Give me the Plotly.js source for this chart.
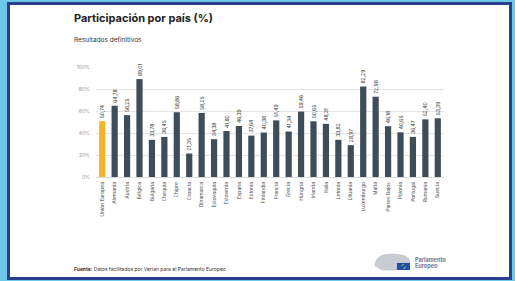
<!DOCTYPE html>
<html>
<head>
<meta charset="utf-8">
<script src="https://cdn.plot.ly/plotly-3.0.1.min.js"></script>
<style>
html,body{margin:0;padding:0;background:#6cc7ea;}
#chart{width:515px;height:281px;}
</style>
</head>
<body>
<div id="chart"></div>
<script>
const countries = ["Unión Europea","Alemania","Austria","Bélgica","Bulgaria","Chequia","Chipre","Croacia","Dinamarca","Eslovaquia","Eslovenia","España","Estonia","Finlandia","Francia","Grecia","Hungría","Irlanda","Italia","Letonia","Lituania","Luxemburgo","Malta","Países Bajos","Polonia","Portugal","Rumanía","Suecia"];
const turnout = [50.74,64.78,56.25,89.01,33.78,36.45,58.86,21.35,58.25,34.38,41.80,46.39,37.64,40.38,51.49,41.34,59.46,50.65,48.31,33.82,28.97,82.29,72.98,46.18,40.65,36.47,52.40,53.39];
const yTicks = [0,20,40,60,80,100];
const yTickText = yTicks.map(v => v + '%');

const W = 515, H = 281;
const L = 96, R = 444, T = 67, B = 177;
const px = v => (v - L) / (R - L);
const py = v => (B - v) / (B - T);

const barColors = countries.map((c, i) => i === 0 ? '#f2b42b' : '#3d4d59');

const trace = {
  type: 'bar',
  x: countries,
  y: turnout,
  marker: {color: barColors},
  texttemplate: '%{y:.2f}',
  textposition: 'outside',
  textangle: -90,
  constraintext: 'none',
  cliponaxis: false,
  textfont: {family: 'Inter, sans-serif', size: 5, color: '#333'},
  hoverinfo: 'none'
};

const layout = {
  width: W, height: H,
  margin: {l: L, r: W - R, t: T, b: H - B, pad: 0},
  paper_bgcolor: '#6cc7ea',
  plot_bgcolor: 'rgba(0,0,0,0)',
  separators: ',.',
  bargap: 0.5,
  showlegend: false,
  font: {family: 'Inter, sans-serif'},
  xaxis: {
    type: 'category',
    tickangle: -90,
    tickfont: {size: 5, color: '#555'},
    ticks: '', showgrid: false, showline: false, automargin: false,
    ticklen: 0, ticklabelstandoff: 3
  },
  yaxis: {
    range: [0, 100],
    tickvals: yTicks,
    ticktext: yTickText,
    tickfont: {size: 5, color: '#999'},
    gridcolor: '#e4e4e4', gridwidth: 1,
    zeroline: true, zerolinecolor: '#dcdcdc', zerolinewidth: 1,
    showline: false, ticks: '', automargin: false,
    ticklabelstandoff: 5
  },
  shapes: [
    {type: 'rect', xref: 'paper', yref: 'paper', layer: 'below',
     x0: px(8.5), x1: px(510.5), y0: py(3.5), y1: py(278.5),
     fillcolor: '#ffffff', line: {color: '#2b3f8e', width: 3}},
    {type: 'path', xref: 'paper', yref: 'paper', layer: 'above',
     path: `M ${px(375)} ${py(266)} Q ${px(375)} ${py(254)} ${px(392)} ${py(254)} Q ${px(410)} ${py(254)} ${px(410)} ${py(263)} L ${px(397)} ${py(263)} L ${px(397)} ${py(270)} L ${px(382)} ${py(270)} Z`,
     fillcolor: '#c9ccd3', line: {color: '#b4b8c0', width: 0.5}},
    {type: 'rect', xref: 'paper', yref: 'paper', layer: 'above',
     x0: px(397), x1: px(410), y0: py(263), y1: py(270),
     fillcolor: '#1f4fa8', line: {width: 0}},
    {type: 'circle', xref: 'paper', yref: 'paper', layer: 'above',
     x0: px(401.5), x1: px(405.5), y0: py(264.5), y1: py(268.5),
     fillcolor: 'rgba(0,0,0,0)', line: {color: '#f2d02b', width: 0.7, dash: 'dot'}}
  ],
  annotations: [
    {xref: 'paper', yref: 'paper', x: px(72), y: py(18), xanchor: 'left', yanchor: 'middle',
     text: '<b>Participación por país (%)</b>', showarrow: false,
     font: {family: 'Inter, sans-serif', size: 11, color: '#222'}},
    {xref: 'paper', yref: 'paper', x: px(72), y: py(39.5), xanchor: 'left', yanchor: 'middle',
     text: 'Resultados definitivos', showarrow: false,
     font: {family: 'Inter, sans-serif', size: 6.5, color: '#333'}},
    {xref: 'paper', yref: 'paper', x: px(72), y: py(268.5), xanchor: 'left', yanchor: 'middle',
     text: '<b>Fuente:</b> Datos facilitados por Verian para el Parlamento Europeo', showarrow: false,
     font: {family: 'Inter, sans-serif', size: 5, color: '#333'}},
    {xref: 'paper', yref: 'paper', x: px(413), y: py(259.5), xanchor: 'left', yanchor: 'middle',
     text: '<b>Parlamento</b>', showarrow: false,
     font: {family: 'Inter, sans-serif', size: 5.5, color: '#6d7a96'}},
    {xref: 'paper', yref: 'paper', x: px(413), y: py(266.5), xanchor: 'left', yanchor: 'middle',
     text: '<b>Europeo</b>', showarrow: false,
     font: {family: 'Inter, sans-serif', size: 5.5, color: '#6d7a96'}}
  ]
};

Plotly.newPlot('chart', [trace], layout, {displayModeBar: false, staticPlot: true});
</script>
</body>
</html>
